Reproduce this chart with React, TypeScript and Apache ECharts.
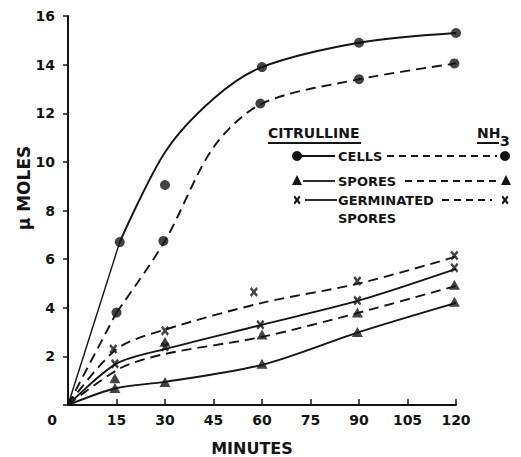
import React, { useEffect, useRef } from "react";
import * as echarts from "echarts";

// ---- Data ----
const xTicks = [0, 15, 30, 45, 60, 75, 90, 105, 120];
const yTicks = [0, 2, 4, 6, 8, 10, 12, 14, 16];

// measured points [minutes, µmoles]
const citCellsPts = [[16, 6.7], [30, 9.05], [60, 13.9], [90, 14.9], [120, 15.3]];
const nh3CellsPts = [[15, 3.8], [29.5, 6.75], [59.5, 12.4], [90, 13.4], [119.5, 14.05]];
const citSporesPts = [[14.5, 0.7], [30, 0.95], [60, 1.7], [89.5, 3.0], [119.5, 4.25]];
const nh3SporesPts = [[14.5, 1.1], [30, 2.6], [60, 2.9], [89.5, 3.8], [119.5, 4.95]];
const citGermPts = [[14.5, 1.7], [30, 2.4], [59.5, 3.3], [89.5, 4.3], [119.5, 5.65]];
const nh3GermPts = [[14, 2.3], [30, 3.05], [57.5, 4.65], [89.5, 5.1], [119.5, 6.15]];

// hand-drawn fitted curves [minutes, µmoles]
const citCellsStart = [[0, 0], [16, 6.7]];
const citCellsCurve = [[16, 6.7], [30, 10.4], [45, 12.6], [60, 13.9], [90, 14.9], [120, 15.3]];
const nh3CellsStart = [[0, 0], [15, 3.8]];
const nh3CellsCurve = [[15, 3.8], [30, 6.75], [45, 10.6], [60, 12.4], [90, 13.4], [120, 14.05]];
const citSporesCurve = [[0, 0], [15, 0.7], [30, 0.95], [60, 1.65], [90, 3.0], [120, 4.2]];
const nh3SporesCurve = [[0, 0], [16, 1.5], [30, 2.1], [60, 2.8], [90, 3.8], [120, 4.9]];
const citGermCurve = [[0, 0], [15, 1.7], [30, 2.3], [60, 3.3], [90, 4.3], [120, 5.6]];
const nh3GermCurve = [[0, 0], [15, 2.3], [30, 3.1], [60, 4.2], [90, 5.0], [120, 6.1]];

const FONT = "DejaVu Sans";
const INK = "#141414";
const X_PATH = "path://M0,2 L2,0 L5,3 L8,0 L10,2 L7,5 L10,8 L8,10 L5,7 L2,10 L0,8 L3,5 Z";

function xPoly(cx: number, cy: number, w: number, h: number) {
  const pts = [[0, 2], [2, 0], [5, 3], [8, 0], [10, 2], [7, 5], [10, 8], [8, 10], [5, 7], [2, 10], [0, 8], [3, 5]];
  return pts.map(([px, py]) => [cx - w / 2 + (px / 10) * w, cy - h / 2 + (py / 10) * h]);
}
function triPoly(cx: number, cy: number, s: number) {
  return [[cx, cy - s / 2], [cx + s / 2, cy + s / 2], [cx - s / 2, cy + s / 2]];
}

export default function App() {
  const ref = useRef<HTMLDivElement>(null);
  useEffect(() => {
    if (!ref.current) return;
    const chart = echarts.init(ref.current, null, { renderer: "svg" });

    const curve = (data: number[][], dashed: boolean, width = 1.9) => ({
      type: "line",
      data,
      smooth: 0.3,
      showSymbol: false,
      silent: true,
      lineStyle: { color: INK, width, type: dashed ? [10, 6] : "solid" },
      z: 2,
    });
    const pts = (data: number[][], symbol: string, size: any) => ({
      type: "scatter",
      data,
      symbol,
      symbolSize: size,
      itemStyle: { color: INK },
      z: 3,
    });

    const text = (x: number, y: number, t: string, size: number, align = "left", extra: any = {}) => ({
      type: "text",
      x,
      y,
      style: { text: t, fill: INK, font: `bold ${size}px "${FONT}"`, textAlign: align, textVerticalAlign: "middle" },
      ...extra,
    });
    const seg = (x1: number, y1: number, x2: number, y2: number, dashed = false, w = 1.8) => ({
      type: "line",
      shape: { x1, y1, x2, y2 },
      style: { stroke: INK, lineWidth: w, lineDash: dashed ? [7, 5] : null },
    });

    const graphic: any[] = [
      text(52, 420, "0", 14, "center"),
      text(252, 448, "MINUTES", 16, "center"),
      text(24, 188, "\u03BC MOLES", 17, "center", { rotation: Math.PI / 2 }),
      // legend headers
      text(268, 133, "CITRULLINE", 14),
      seg(268, 143, 361, 143, false, 2),
      text(477, 133, "NH", 14),
      text(500, 141, "3", 14),
      seg(477, 143, 499, 143, false, 2),
      // row 1 cells
      { type: "circle", shape: { cx: 297, cy: 156, r: 5 }, style: { fill: INK } },
      seg(302, 156, 335, 156),
      text(338, 156, "CELLS", 13),
      seg(387, 156, 497, 156, true),
      { type: "circle", shape: { cx: 505, cy: 156, r: 5 }, style: { fill: INK } },
      // row 2 spores
      { type: "polygon", shape: { points: triPoly(297, 180, 10) }, style: { fill: INK } },
      seg(303, 181, 335, 181),
      text(338, 181, "SPORES", 13),
      seg(405, 181, 498, 181, true),
      { type: "polygon", shape: { points: triPoly(506, 180, 10) }, style: { fill: INK } },
      // row 3 germinated spores
      { type: "polygon", shape: { points: xPoly(297, 200, 7, 9) }, style: { fill: INK } },
      seg(305, 200, 337, 200),
      text(338, 200, "GERMINATED", 13),
      seg(442, 200, 492, 200, true),
      { type: "polygon", shape: { points: xPoly(505, 200, 7, 9) }, style: { fill: INK } },
      text(338, 218, "SPORES", 13),
    ];

    chart.setOption({
      animation: false,
      backgroundColor: "#ffffff",
      textStyle: { fontFamily: FONT },
      grid: { left: 68, right: 65, top: 16, bottom: 52 },
      xAxis: {
        type: "value",
        min: xTicks[0],
        max: xTicks[xTicks.length - 1],
        interval: 15,
        axisLine: { show: true, lineStyle: { color: INK, width: 2 } },
        axisTick: { show: true, inside: true, length: 6, lineStyle: { color: INK, width: 1.5 } },
        axisLabel: {
          color: INK,
          fontSize: 14,
          fontWeight: "bold",
          fontFamily: FONT,
          margin: 8,
          formatter: (v: number) => (v === 0 ? "" : String(v)),
        },
        splitLine: { show: false },
      },
      yAxis: {
        type: "value",
        min: yTicks[0],
        max: yTicks[yTicks.length - 1],
        interval: 2,
        axisLine: { show: true, lineStyle: { color: INK, width: 2 } },
        axisTick: { show: true, inside: false, length: 5, lineStyle: { color: INK, width: 1.5 } },
        axisLabel: {
          color: INK,
          fontSize: 14,
          fontWeight: "bold",
          fontFamily: FONT,
          margin: 13,
          formatter: (v: number) => (v === 0 ? "" : String(v)),
        },
        splitLine: { show: false },
      },
      series: [
        { ...curve(citCellsStart, false, 1.4), smooth: false },
        curve(citCellsCurve, false),
        { ...curve(nh3CellsStart, true), smooth: false },
        curve(nh3CellsCurve, true),
        curve(citSporesCurve, false),
        curve(nh3SporesCurve, true),
        curve(citGermCurve, false),
        curve(nh3GermCurve, true),
        pts(citCellsPts, "circle", 10),
        pts(nh3CellsPts, "circle", 10),
        pts(citSporesPts, "triangle", [11, 10]),
        pts(nh3SporesPts, "triangle", [11, 10]),
        pts(citGermPts, X_PATH, [8, 10]),
        pts(nh3GermPts, X_PATH, [8, 10]),
      ],
      graphic,
    });
    return () => chart.dispose();
  }, []);
  return (
    <div
      ref={ref}
      style={{ width: 521, height: 457, position: "absolute", left: 0, top: 0 }}
    />
  );
}
